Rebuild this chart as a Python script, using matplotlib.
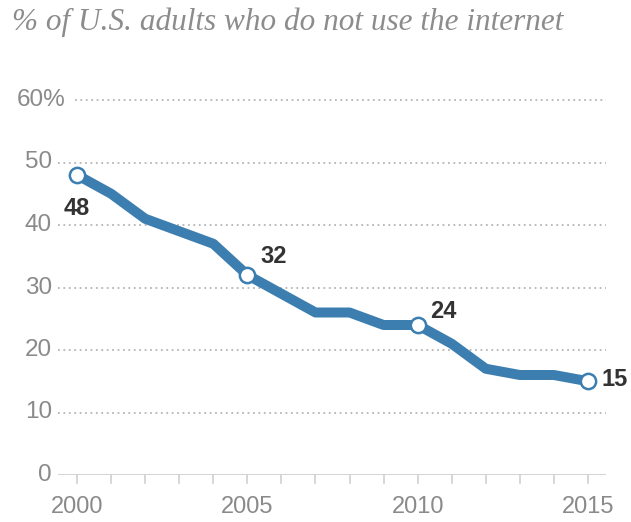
import matplotlib
matplotlib.use("Agg")
import matplotlib.pyplot as plt

years = list(range(2000, 2016))
pct_offline = [48, 45, 41, 39, 37, 32, 29, 26, 26, 24, 24, 21, 17, 16, 16, 15]
labeled_years = [2000, 2005, 2010, 2015]
y_ticks = [0, 10, 20, 30, 40, 50, 60]
x_tick_labels = [2000, 2005, 2010, 2015]

title = "% of U.S. adults who do not use the internet"

blue = "#3c7eb0"
grey_text = "#8a8a8a"
sans = ["Liberation Sans Narrow", "Liberation Sans", "DejaVu Sans"]

fig = plt.figure(figsize=(6.31, 5.22), dpi=100)
W, H = 631, 522
x0, x1 = 58, 606
ax = fig.add_axes([x0 / W, 1 - 475 / H, (x1 - x0) / W, (475 - 93.75) / H])
ax.set_xlim(1999.44, 2015.53)
ax.set_ylim(0, 61)
for s in ax.spines.values():
    s.set_visible(False)
ax.set_xticks([])
ax.set_yticks([])

# gridlines + y labels (top one carries the % sign)
for v in y_ticks[1:]:
    xmin = (75 - x0) / (x1 - x0) if v == 60 else 0
    ax.axhline(v, xmin=xmin, xmax=1, color="#b5b5b5", lw=1.3,
               linestyle=(0, (1, 2.0)), zorder=1)
for v in y_ticks:
    label = f"{v}%" if v == 60 else str(v)
    xpos = (66 - x0) / (x1 - x0) if v == 60 else -6 / (x1 - x0)
    ax.text(xpos, v, label, transform=ax.get_yaxis_transform(),
            ha="right", va="center", fontsize=17.5, color=grey_text, family=sans)

# x axis baseline and ticks
ax.axhline(0, color="#d0d0d0", lw=1.3, zorder=1)
for yr in years:
    ax.plot([yr, yr], [0, -1.3], color="#d0d0d0", lw=1.2, clip_on=False)
for yr in x_tick_labels:
    ax.text(yr, -3.4, str(yr), ha="center", va="top", fontsize=17,
            color=grey_text, family=sans)

ax.plot(years, pct_offline, color=blue, lw=7.2, solid_joinstyle="round",
        solid_capstyle="round", zorder=3)
lx = [y for y in years if y in labeled_years]
ly = [pct_offline[years.index(y)] for y in lx]
ax.plot(lx, ly, "o", ms=11, mfc="white", mec=blue, mew=1.8, zorder=4, clip_on=False)

offsets = {2000: (0, -5.3, "center"), 2005: (0.38, 2.9, "left"),
           2010: (0.36, 2.1, "left"), 2015: (0.41, 0.2, "left")}
for yr, v in zip(lx, ly):
    dx, dy, ha = offsets[yr]
    ax.text(yr + dx, v + dy, str(v), ha=ha, va="center", fontsize=17,
            fontweight="bold", color="#333333", family=sans)

fig.text(12 / W, 1 - 22 / H, title, ha="left", va="center", fontsize=22.5,
         style="italic", color="#8c8c8c", family=["Liberation Serif", "DejaVu Serif"])

fig.savefig("out.png", dpi=100)
